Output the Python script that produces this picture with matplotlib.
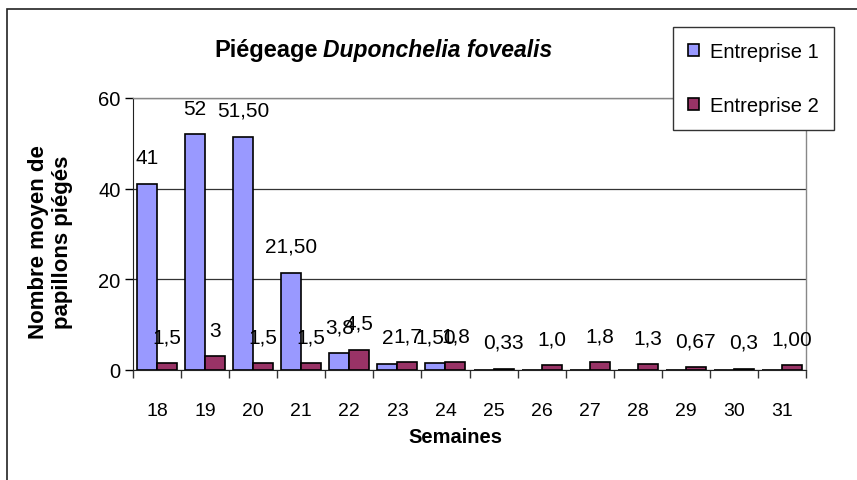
import matplotlib
matplotlib.use('Agg')
import matplotlib.pyplot as plt
from matplotlib.patches import Rectangle
import numpy as np

plt.rcParams['font.family'] = ['Liberation Sans', 'DejaVu Sans']

weeks = ['18', '19', '20', '21', '22', '23', '24', '25', '26', '27', '28', '29', '30', '31']
ent1 = [41, 52, 51.5, 21.5, 3.8, 1.3, 1.5, 0, 0, 0, 0, 0, 0, 0]
ent2 = [1.5, 3, 1.5, 1.5, 4.5, 1.7, 1.8, 0.33, 1.0, 1.8, 1.3, 0.67, 0.3, 1.0]
ent1_labels = ['41', '52', '51,50', '21,50', '3,8', '2', '1,50', '', '', '', '', '', '', '']
ent2_labels = ['1,5', '3', '1,5', '1,5', '4,5', '1,7', '1,8', '0,33', '1,0', '1,8', '1,3', '0,67', '0,3', '1,00']

fig = plt.figure(figsize=(8.57, 4.81), dpi=100)
ax = fig.add_axes([133/857, 1 - 371/481, 673/857, 272/481])

x = np.arange(len(weeks))
w = 1 / 2.4
b1 = ax.bar(x - w/2, ent1, w, color='#9999FF', edgecolor='black', linewidth=1.2, label='Entreprise 1', zorder=3)
b2 = ax.bar(x + w/2, ent2, w, color='#993366', edgecolor='black', linewidth=1.2, label='Entreprise 2', zorder=3)

# etiquettes de valeurs
for xi, v, s in zip(x, ent1, ent1_labels):
    if s:
        ax.annotate(s, (xi - w/2, v), xytext=(0, 12), textcoords='offset points',
                    ha='center', va='bottom', fontsize=15)
for xi, v, s in zip(x, ent2, ent2_labels):
    ax.annotate(s, (xi + w/2, v), xytext=(0, 12), textcoords='offset points',
                ha='center', va='bottom', fontsize=15)

ax.set_xlim(-0.5, len(weeks) - 0.5)
ax.set_ylim(0, 60)
ax.set_yticks([0, 20, 40, 60])
ax.yaxis.grid(True, color='#333333', linewidth=0.9, zorder=0)
ax.set_xticks(x)
ax.set_xticklabels(weeks, fontsize=14)
ax.set_xticks(np.arange(-0.5, len(weeks)), minor=True)
ax.tick_params(axis='x', which='major', length=0, pad=23)
ax.tick_params(axis='x', which='minor', length=6, width=1, color='#333333')
ax.tick_params(axis='y', length=6, width=1, labelsize=14.5, pad=3)

for side in ['top', 'right']:
    ax.spines[side].set_color('#888888')
    ax.spines[side].set_linewidth(1)
ax.spines['left'].set_color('#222222')
ax.spines['bottom'].set_color('#222222')

ax.set_ylabel('Nombre moyen de\npapillons piégés', fontsize=16, fontweight='bold')
ax.yaxis.set_label_coords(-(133 - 73) / 673, (371 - 242) / 272)
ax.set_xlabel('Semaines', fontsize=14.5, fontweight='bold')
ax.xaxis.set_label_coords((455 - 133) / 673, -(438 - 371) / 272)
ax.xaxis.label.set_va('center')

fig.text(318/857, 1 - 50/481, 'Piégeage', fontsize=17, fontweight='bold', ha='right', va='center')
fig.text(323/857, 1 - 50/481, 'Duponchelia fovealis', fontsize=16.5, fontweight='bold',
         style='italic', ha='left', va='center')

leg = fig.legend(handles=[b1, b2], loc='upper left', bbox_to_anchor=(673/857, 1 - 28/481),
                 fontsize=14.5, frameon=True, fancybox=False, framealpha=1,
                 edgecolor='#333333', borderpad=0.75, labelspacing=1.75,
                 handlelength=0.55, handleheight=0.55, handletextpad=0.55, borderaxespad=0)
leg.get_frame().set_linewidth(1)

# cadre extérieur
fig.patches.append(Rectangle((7/857, -0.1), 1.2, 1 - 10/481 + 0.1, transform=fig.transFigure,
                             fill=False, edgecolor='#222222', linewidth=1.2))

fig.savefig('out.png', dpi=100)
